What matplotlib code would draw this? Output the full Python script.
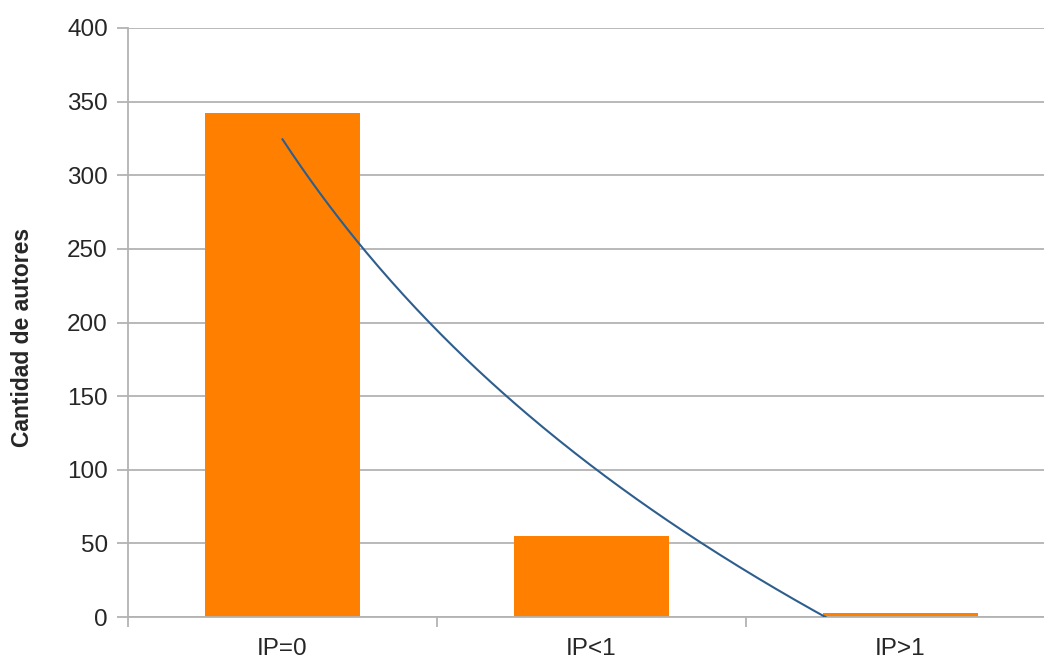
import numpy as np
import matplotlib
matplotlib.use("Agg")
import matplotlib.pyplot as plt

plt.rcParams['font.family'] = ['Liberation Sans', 'DejaVu Sans']

categories = ['IP=0', 'IP<1', 'IP>1']
autores = [342, 55, 3]
y_ticks = [0, 50, 100, 150, 200, 250, 300, 350, 400]

bar_color = '#ff8000'
trend_color = '#2e5e8e'
grid_color = '#b3b3b3'
text_color = '#262626'

fig = plt.figure(figsize=(10.44, 6.63), dpi=100)
ax = fig.add_axes([128 / 1044, 1 - 617 / 663, 927 / 1044, 589 / 663])

pos = np.arange(len(categories))
ax.bar(pos, autores, width=0.5, color=bar_color, zorder=2)

# logarithmic trend line (like the spreadsheet one), x = 1, 2, 3
xs = pos + 1
b, a = np.polyfit(np.log(xs), autores, 1)
xx = np.linspace(1, 3, 200)
ax.plot(xx - 1, a + b * np.log(xx), color=trend_color, lw=1.5, zorder=3)

ax.set_xlim(-0.5, 2.5)
ax.set_ylim(0, 400)
ax.set_yticks(y_ticks)
ax.set_xticks(pos)
ax.set_xticklabels(categories)
ax.set_xticks([-0.5, 0.5, 1.5], minor=True)

ax.grid(axis='y', color=grid_color, lw=1.3, zorder=0)
for s in ['top', 'right']:
    ax.spines[s].set_visible(False)
for s in ['left', 'bottom']:
    ax.spines[s].set_color(grid_color)
    ax.spines[s].set_linewidth(1.3)

ax.tick_params(axis='y', length=8, width=1.3, color=grid_color, pad=6.5,
               labelsize=17.5, labelcolor=text_color)
ax.tick_params(axis='x', which='major', length=0, pad=15,
               labelsize=17.5, labelcolor=text_color)
ax.tick_params(axis='x', which='minor', length=7.5, width=1.3, color=grid_color)

fig.text(23 / 1044, 1 - 337 / 663, 'Cantidad de autores', rotation=90,
         ha='center', va='center', fontsize=16.5, fontweight='bold', color=text_color)

fig.savefig('out.png', dpi=100)
